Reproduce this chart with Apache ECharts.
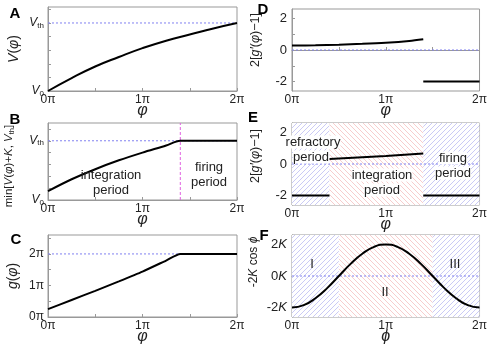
<!DOCTYPE html>
<html><head><meta charset="utf-8">
<script src="https://cdn.jsdelivr.net/npm/echarts@6/dist/echarts.min.js"></script>
<style>html,body{margin:0;padding:0;background:#fff}#c{width:490px;height:350px}</style>
</head><body><div id="c"></div>
<script>
// ---- data (x in units of π) ----
const phiA = [0, 0.25, 0.5, 0.75, 1, 1.25, 1.5, 1.75, 2];
const vA   = [0, 0.19, 0.36, 0.50, 0.63, 0.74, 0.83, 0.92, 1.0];

const phiB = [0, 0.25, 0.5, 0.75, 1, 1.25, 1.4, 2];
const vB   = [0.15, 0.35, 0.52, 0.67, 0.80, 0.92, 1.0, 1.0];

const phiC = [0, 0.25, 0.5, 0.75, 1, 1.25, 1.4, 2];
const gC   = [0.25, 0.54, 0.83, 1.13, 1.44, 1.79, 2.0, 2.0];

const phiD = [0, 0.25, 0.5, 0.75, 1, 1.25, 1.4, null, 1.4, 2];
const dD   = [0.28, 0.30, 0.34, 0.39, 0.46, 0.57, 0.68, null, -2, -2];

const phiE = [0, 0.4, null, 0.4, 0.7, 1.0, 1.4, null, 1.4, 2];
const dE   = [-2, -2, null, 0.31, 0.41, 0.50, 0.66, null, -2, -2];

const phiF = [0, 0.125, 0.25, 0.375, 0.5, 0.625, 0.75, 0.875, 1, 1.125, 1.25, 1.375, 1.5, 1.625, 1.75, 1.875, 2];
const fF   = [-2, -1.85, -1.41, -0.77, 0, 0.77, 1.41, 1.85, 2, 1.85, 1.41, 0.77, 0, -0.77, -1.41, -1.85, -2];

const xTickLabels = [0, 1, 2];
const refLevels = [1, 1, 2, 0, 0, 0];   // dotted reference level per panel A..F
const firingStart = 1.4;
const refractoryEnd = 0.4;
const regionsE = [[0, refractoryEnd, 'b'], [refractoryEnd, firingStart, 'r'], [firingStart, 2, 'b']];
const regionsF = [[0, 0.5, 'b'], [0.5, 1.5, 'r'], [1.5, 2, 'b']];

// ---- helpers ----
function zip(xs, ys) { return xs.map((x, i) => (x === null || ys[i] === null) ? [null, null] : [x, ys[i]]); }
function hatch(color, dir) {
  const s = 5, c = document.createElement('canvas');
  c.width = c.height = s;
  const ctx = c.getContext('2d');
  ctx.fillStyle = '#fff'; ctx.fillRect(0, 0, s, s);
  ctx.strokeStyle = color; ctx.lineWidth = 0.8;
  const seg = (a, b, cc, d) => { ctx.beginPath(); ctx.moveTo(a, b); ctx.lineTo(cc, d); ctx.stroke(); };
  if (dir === '/') { seg(-1, s + 1, s + 1, -1); seg(-1, 1, 1, -1); seg(s - 1, s + 1, s + 1, s - 1); }
  else { seg(-1, -1, s + 1, s + 1); seg(-1, s - 1, 1, s + 1); seg(s - 1, -1, s + 1, 1); }
  return { image: c, repeat: 'repeat' };
}
const blueH = hatch('#bcbcf2', '/');
const redH = hatch('#f5c0c0', '\\');

const AX = '#999';
const FONT = 'Liberation Sans, Arial, sans-serif';
const grids = [
  { left: 48, top: 7, width: 189, height: 84 },
  { left: 48, top: 123, width: 189, height: 77 },
  { left: 48, top: 235, width: 189, height: 82 },
  { left: 292, top: 9, width: 188, height: 82 },
  { left: 292, top: 123, width: 188, height: 82 },
  { left: 292, top: 235, width: 188, height: 82 }
].map(g => Object.assign({ show: true, borderColor: AX, borderWidth: 1, backgroundColor: 'transparent' }, g));

function xAx(i) {
  return {
    type: 'value', gridIndex: i, min: 0, max: 2,
    name: i === 5 ? 'ϕ' : 'φ', nameLocation: 'middle', nameGap: 12, nameMoveOverlap: false,
    nameTextStyle: { fontFamily: FONT, fontSize: 16, fontStyle: 'italic', color: '#222' },
    axisLine: { show: true, lineStyle: { color: AX } },
    axisTick: { show: true, inside: true, length: 3, customValues: [0, 0.5, 1, 1.5, 2], lineStyle: { color: AX } },
    axisLabel: { customValues: xTickLabels, formatter: v => v + 'π', fontFamily: FONT, fontSize: 12, color: '#222', margin: 3 },
    splitLine: { show: false }
  };
}
const richV = {
  v: { fontFamily: FONT, fontSize: 12, fontStyle: 'italic', color: '#222' },
  s: { fontFamily: FONT, fontSize: 8, color: '#222', padding: [5, 0, 0, 0] }
};
function yAx(i, o) {
  return Object.assign({
    type: 'value', gridIndex: i,
    axisLine: { show: true, lineStyle: { color: AX } },
    splitLine: { show: false }
  }, o);
}
const yAxes = [
  yAx(0, { min: 0, max: 1.235,
    axisTick: { inside: true, length: 3, customValues: [0, 0.2, 0.4, 0.6, 0.8, 1.0, 1.2], lineStyle: { color: AX } },
    axisLabel: { customValues: [0, 1], formatter: v => v === 1 ? '{v|V}{s|th}' : '{v|V}{s|0}', rich: richV, margin: 4 } }),
  yAx(1, { min: 0, max: 1.3,
    axisTick: { inside: true, length: 3, customValues: [0, 0.2, 0.4, 0.6, 0.8, 1.0, 1.2], lineStyle: { color: AX } },
    axisLabel: { customValues: [0, 1], formatter: v => v === 1 ? '{v|V}{s|th}' : '{v|V}{s|0}', rich: richV, margin: 4 } }),
  yAx(2, { min: 0, max: 2.6,
    axisTick: { inside: true, length: 3, customValues: [0, 0.5, 1, 1.5, 2, 2.5], lineStyle: { color: AX } },
    axisLabel: { customValues: [0, 1, 2], formatter: v => v + 'π', fontFamily: FONT, fontSize: 12, color: '#222', margin: 4 } }),
  yAx(3, { min: -2.6, max: 2.6,
    axisTick: { inside: true, length: 3, customValues: [-2, -1, 0, 1, 2], lineStyle: { color: AX } },
    axisLabel: { customValues: [-2, 0, 2], fontFamily: FONT, fontSize: 13, color: '#222', margin: 5 } }),
  yAx(4, { min: -2.6, max: 2.6,
    axisTick: { inside: true, length: 3, customValues: [-2, -1, 0, 1, 2], lineStyle: { color: AX } },
    axisLabel: { customValues: [-2, 0, 2], fontFamily: FONT, fontSize: 13, color: '#222', margin: 5 } }),
  yAx(5, { min: -2.6, max: 2.6,
    axisTick: { inside: true, length: 3, customValues: [-2, -1, 0, 1, 2], lineStyle: { color: AX } },
    axisLabel: { customValues: [-2, 0, 2], formatter: v => '{n|' + v + '}{k|K}',
      rich: { n: { fontFamily: FONT, fontSize: 13, color: '#222' }, k: { fontFamily: FONT, fontSize: 13, fontStyle: 'italic', color: '#222' } }, margin: 5 } })
];

function ma(regs) {
  return { silent: true, label: { show: false },
    data: regs.map(r => [{ xAxis: r[0], itemStyle: { color: r[2] === 'b' ? blueH : redH, opacity: 1 } }, { xAxis: r[1] }]) };
}
function line(i, data, extra) {
  return Object.assign({ type: 'line', xAxisIndex: i, yAxisIndex: i, data: data, symbol: 'none', z: 3,
    connectNulls: false, lineStyle: { color: '#000', width: 2 }, itemStyle: { color: '#000' }, animation: false }, extra || {});
}
function refSeries(i) {
  return { type: 'line', xAxisIndex: i, yAxisIndex: i, symbol: 'none', silent: true, z: 2, animation: false,
    data: [[0, refLevels[i]], [2, refLevels[i]]],
    lineStyle: { color: '#8080f0', type: [2, 2], width: 1 }, itemStyle: { color: '#8080f0' } };
}

const series = [
  line(0, zip(phiA, vA), { smooth: true }),
  line(1, zip(phiB, vB), { smooth: 0.3 }),
  line(2, zip(phiC, gC), { smooth: 0.2 }),
  line(3, zip(phiD, dD), { smooth: 0.3 }),
  line(4, zip(phiE, dE), { markArea: ma(regionsE) }),
  line(5, zip(phiF, fF), { smooth: true, markArea: ma(regionsF) }),
  refSeries(0), refSeries(1), refSeries(2), refSeries(3), refSeries(4), refSeries(5),
  { type: 'line', xAxisIndex: 1, yAxisIndex: 1, symbol: 'none', silent: true, z: 2, animation: false,
    data: [[firingStart, 0], [firingStart, 1.3]],
    lineStyle: { color: '#e060e0', type: [3, 2], width: 1 }, itemStyle: { color: '#e060e0' } }
];

function txt(x, y, t, o) {
  return { type: 'text', x: x, y: y, z: 100, style: Object.assign({ text: t, fontFamily: FONT, fontSize: 13, fill: '#222',
    textAlign: 'center', textVerticalAlign: 'middle' }, o || {}) };
}
function ytitle(x, y, t, size, rich) {
  return { type: 'text', x: x, y: y, rotation: Math.PI / 2, z: 100,
    style: { text: t, fontFamily: FONT, fontSize: size, fill: '#222', textAlign: 'center', textVerticalAlign: 'middle', rich: rich } };
}
const it = (s) => ({ fontFamily: FONT, fontSize: s, fontStyle: 'italic', fill: '#222' });
const nm = (s) => ({ fontFamily: FONT, fontSize: s, fill: '#222' });
const sb = (s) => ({ fontFamily: FONT, fontSize: s - 4, fill: '#222', padding: [5, 0, 0, 0] });

const graphic = [
  txt(15, 14, 'A', { fontSize: 15, fontWeight: 'bold', fill: '#000' }),
  txt(15, 120, 'B', { fontSize: 15, fontWeight: 'bold', fill: '#000' }),
  txt(16, 240, 'C', { fontSize: 15, fontWeight: 'bold', fill: '#000' }),
  txt(263, 10, 'D', { fontSize: 15, fontWeight: 'bold', fill: '#000' }),
  txt(253, 118, 'E', { fontSize: 15, fontWeight: 'bold', fill: '#000' }),
  txt(264, 236, 'F', { fontSize: 15, fontWeight: 'bold', fill: '#000' }),
  ytitle(14, 49, '{i|V}{n|(}{i|φ}{n|)}', 14, { i: it(14), n: nm(14) }),
  ytitle(9, 166, '{n|min[}{i|V}{n|(}{i|φ}{n|)+}{i|K}{n|, }{i|V}{s|th}{n|]}', 11.5, { i: it(11.5), n: nm(11.5), s: sb(11.5) }),
  ytitle(13, 276, '{i|g}{n|(}{i|φ}{n|)}', 14, { i: it(14), n: nm(14) }),
  ytitle(256, 40, '{n|2[}{i|g′}{n|(}{i|φ}{n|)−1]}', 12.5, { i: it(12.5), n: nm(12.5) }),
  ytitle(256, 156, '{n|2[}{i|g′}{n|(}{i|φ}{n|)−1]}', 12.5, { i: it(12.5), n: nm(12.5) }),
  ytitle(254, 262, '{n|-2}{i|K}{n| cos }{i|ϕ}', 12, { i: it(12), n: nm(12) }),
  // B annotations
  txt(111, 175, 'integration'), txt(111, 190, 'period'),
  txt(209, 167, 'firing'), txt(209, 182, 'period'),
  // E annotations
  txt(313, 142, 'refractory', { backgroundColor: '#fff' }),
  txt(311, 157, 'period', { backgroundColor: '#fff' }),
  txt(382, 175, 'integration', { backgroundColor: '#fff' }),
  txt(382, 190, 'period', { backgroundColor: '#fff' }),
  txt(453, 158, 'firing', { backgroundColor: '#fff' }),
  txt(453, 173, 'period', { backgroundColor: '#fff' }),
  // F region labels
  txt(312, 264, 'I', { fontSize: 13 }),
  txt(385, 292, 'II', { fontSize: 13 }),
  txt(455, 264, 'III', { fontSize: 13 })
];

const chart = echarts.init(document.getElementById('c'), null, { renderer: 'canvas' });
chart.setOption({
  animation: false,
  backgroundColor: '#fff',
  grid: grids,
  xAxis: [0, 1, 2, 3, 4, 5].map(xAx),
  yAxis: yAxes,
  series: series,
  graphic: graphic
});
</script></body></html>
